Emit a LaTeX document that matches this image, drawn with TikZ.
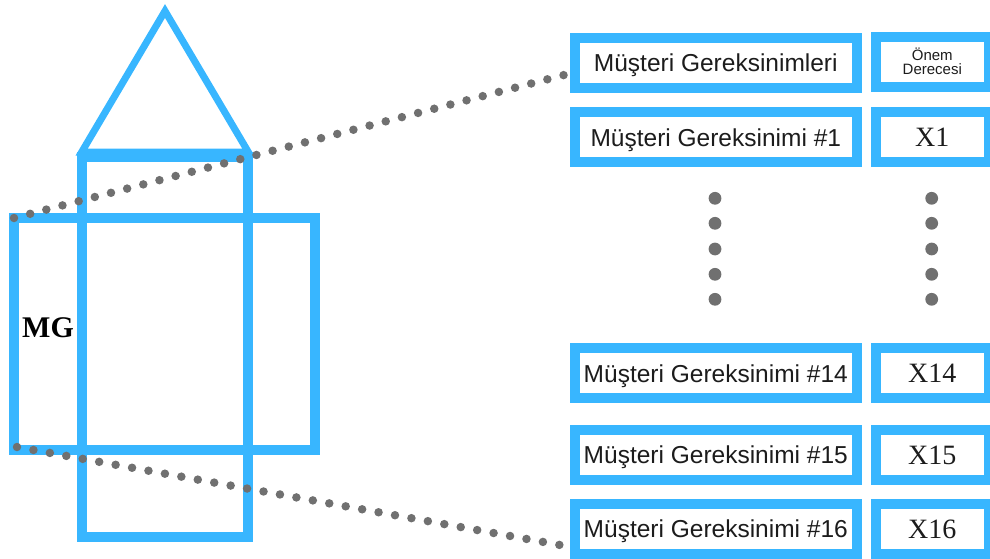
\documentclass[tikz,border=0pt]{standalone}
\usepackage{fontspec}
\setmainfont{Liberation Sans}
\newfontfamily\seriffont{Liberation Serif}
\definecolor{qblue}{RGB}{56,182,255}
\definecolor{qgray}{RGB}{112,112,112}
\definecolor{qtext}{RGB}{28,28,28}
\begin{document}
\begin{tikzpicture}[x=1pt,y=-1pt,
  bluebox/.style={draw=qblue,line width=10pt,inner sep=0pt,outer sep=0pt},
  reqbox/.style={bluebox,minimum width=281.7pt,minimum height=50pt,text=qtext,
    font=\fontsize{24.5}{29}\selectfont,text height=17.5pt,text depth=0pt},
  valbox/.style={bluebox,minimum width=113.3pt,minimum height=50pt,text=qtext,
    font=\seriffont\fontsize{28}{32}\selectfont,text height=18.5pt,text depth=0pt},
  hdrval/.style={bluebox,minimum width=113.3pt,minimum height=50pt,text=qtext,
    font=\fontsize{15}{14}\selectfont,align=center},
  dotline/.style={draw=qgray,line width=8.5pt,line cap=round,dash pattern=on 0pt off 16.7pt},
  bigdot/.style={fill=qgray}]
\useasboundingbox (0,0) rectangle (990,559);

% net of the box
\node[bluebox,minimum width=166.6pt,minimum height=380pt] (tall) at (165,347) {};
\node[bluebox,minimum width=301pt,minimum height=232pt] (wide) at (164.5,334) {};
\draw[qblue,line width=7pt,line join=miter] (81.7,152) -- (165,11) -- (248.3,152) -- cycle;
\node[anchor=west,inner sep=0pt,text=black,font=\seriffont\bfseries\fontsize{30}{32}\selectfont] (mg) at (22,328) {MG};

% table
\node[reqbox] (h1) at (715.8,62.7) {Müşteri Gereksinimleri};
\node[hdrval,yshift=1pt] (h2) at (932.3,62.7) {Önem\\Derecesi};
\node[reqbox] (r1) at (715.8,137.3) {Müşteri Gereksinimi \#1};
\node[valbox] (v1) at (932.3,137.3) {X1};
\node[reqbox] (r14) at (715.8,373.3) {Müşteri Gereksinimi \#14};
\node[valbox] (v14) at (932.3,373.3) {X14};
\node[reqbox] (r15) at (715.8,455) {Müşteri Gereksinimi \#15};
\node[valbox] (v15) at (932.3,455) {X15};
\node[reqbox] (r16) at (715.8,529) {Müşteri Gereksinimi \#16};
\node[valbox] (v16) at (932.3,529) {X16};

% ellipsis dots
\foreach \yy in {198.3,223.3,249,274.3,299.3}{
  \fill[bigdot] (715,\yy) circle (6.4pt);
  \fill[bigdot] (931.7,\yy) circle (6.4pt);
}

% dotted projection lines
\coordinate (upEnd) at (564,75);
\coordinate (lowEnd) at (560,545);
\draw[dotline] (wide.north west) -- (upEnd);
\draw[dotline] ([xshift=3pt,yshift=3pt]wide.south west) -- (lowEnd);
\end{tikzpicture}
\end{document}
